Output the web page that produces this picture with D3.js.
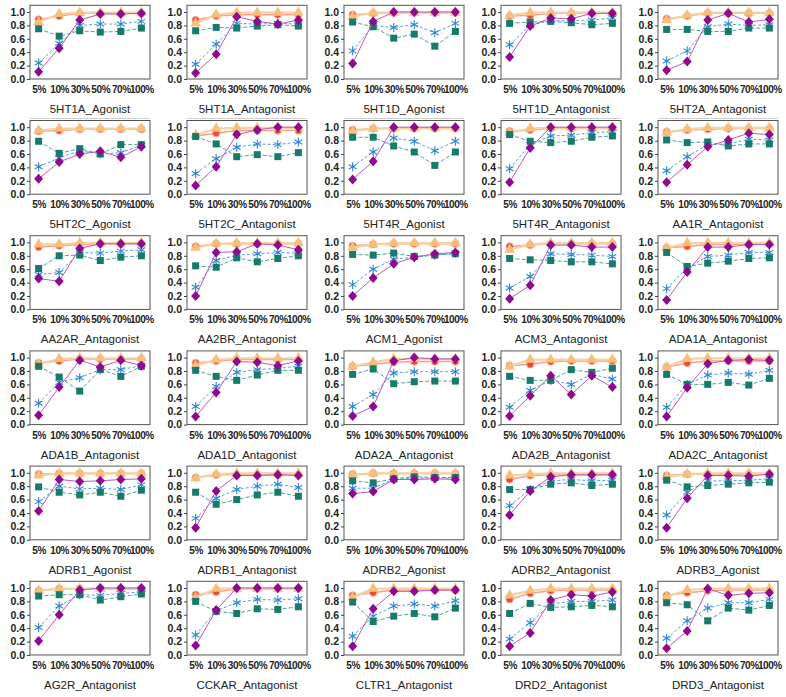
<!DOCTYPE html>
<html><head><meta charset="utf-8">
<script src="https://cdn.jsdelivr.net/npm/d3@7"></script>
<style>body{margin:0;background:#fff}</style>
</head><body>
<svg id="c" width="786" height="697"></svg>
<script>
const categories = ["5%","10%","30%","50%","70%","100%"];
const yTicks = [0,0.2,0.4,0.6,0.8,1.0];
const panelNames = [
"5HT1A_Agonist","5HT1A_Antagonist","5HT1D_Agonist","5HT1D_Antagonist","5HT2A_Antagonist",
"5HT2C_Agonist","5HT2C_Antagonist","5HT4R_Agonist","5HT4R_Antagonist","AA1R_Antagonist",
"AA2AR_Antagonist","AA2BR_Antagonist","ACM1_Agonist","ACM3_Antagonist","ADA1A_Antagonist",
"ADA1B_Antagonist","ADA1D_Antagonist","ADA2A_Antagonist","ADA2B_Antagonist","ADA2C_Antagonist",
"ADRB1_Agonist","ADRB1_Antagonist","ADRB2_Agonist","ADRB2_Antagonist","ADRB3_Agonist",
"AG2R_Antagonist","CCKAR_Antagonist","CLTR1_Antagonist","DRD2_Antagonist","DRD3_Antagonist"];
// red circle series
const redCircle = [
[.89,.94,.98,.98,.98,.98],[.88,.94,.96,.96,.96,.96],[.96,.98,.99,.99,.99,.99],[.94,.95,.98,.98,.98,.98],[.90,.94,.98,.98,.98,.98],
[.94,.95,.97,.97,.97,.97],[.87,.91,.95,.95,.95,.95],[.96,.98,.98,.98,.98,.98],[.94,.96,.98,.98,.98,.98],[.93,.96,.97,.98,.98,.98],
[.93,.95,.97,.98,.98,.98],[.94,.98,.98,.98,.98,.98],[.95,.97,.98,.98,.98,.98],[.94,.96,.98,.98,.98,.98],[.92,.94,.97,.97,.97,.98],
[.92,.95,.98,.98,.98,.98],[.92,.95,.97,.97,.97,.97],[.87,.90,.93,.94,.94,.94],[.88,.90,.94,.95,.95,.95],[.86,.92,.95,.95,.95,.95],
[.98,.99,.99,.99,.99,.99],[.93,.97,.97,.97,.97,.97],[.98,.99,.99,.99,.99,.99],[.90,.96,.97,.97,.97,.97],[.96,.98,.98,.98,.98,.98],
[.96,.99,.99,.99,.99,.99],[.90,.94,.99,.99,.99,.99],[.89,.93,.97,.97,.97,.97],[.83,.92,.96,.97,.97,.97],[.89,.93,.96,.97,.97,.97]];
// light orange triangle series
const orangeTriangle = [
[.85,.97,.99,.99,.99,.99],[.83,.96,.99,.99,.99,.99],[.93,.99,.99,.99,.99,.99],[.95,.99,.99,.99,.99,.99],[.88,.95,.99,.99,.99,.99],
[.95,.98,.98,.98,.98,.98],[.88,.98,.99,.99,.99,.99],[.94,.98,.99,.99,.99,.99],[.92,.98,.99,.99,.99,.99],[.92,.97,.99,.99,.99,.99],
[.97,.97,.99,.99,.99,.99],[.92,.98,.99,.99,.99,.99],[.92,.97,.99,.99,.99,.99],[.89,.97,.99,.99,.99,.99],[.92,.99,.99,.99,.99,.99],
[.90,.98,.99,.99,.99,.99],[.88,.97,.99,.99,.99,.99],[.87,.93,.98,.98,.98,.98],[.87,.97,.97,.97,.97,.97],[.86,.98,.99,.99,.99,.99],
[.96,.99,.99,.99,.99,.99],[.92,.98,.99,.99,.99,.99],[.97,.99,.99,.99,.99,.99],[.96,.98,.99,.99,.99,.99],[.94,.98,.99,.99,.99,.99],
[.96,.99,.99,.99,.99,.99],[.86,.99,.99,.99,.99,.99],[.86,.99,.99,.99,.99,.99],[.89,.96,.99,.99,.99,.99],[.87,.97,.99,.99,.99,.99]];
// purple diamond series
const purpleDiamond = [
[.11,.46,.88,.97,.97,.98],[.09,.37,.93,.86,.82,.88],[.23,.86,1.0,1.0,1.0,1.0],[.33,.79,.91,.90,.98,.98],[.13,.26,.88,.98,.85,.89],
[.23,.48,.60,.64,.55,.71],[.13,.41,.89,.96,1.0,1.0],[.22,.49,1.0,1.0,1.0,1.0],[.18,.69,1.0,1.0,1.0,1.0],[.18,.44,.71,.81,.91,.89],
[.46,.42,.91,.98,.98,.98],[.20,.85,.86,.98,.96,.89],[.20,.47,.68,.78,.83,.85],[.16,.36,.96,.96,.93,.93],[.14,.56,.93,.93,.97,.97],
[.14,.56,.96,.86,.96,.88],[.12,.48,.94,.93,.88,.95],[.13,.27,.95,1.0,.98,.98],[.13,.43,.73,.45,.73,.56],[.12,.55,.91,.96,.97,.96],
[.43,.90,.87,.88,.90,.91],[.18,.73,.96,.96,.97,.96],[.69,.72,.90,.90,.91,.90],[.37,.73,.94,.97,.97,.97],[.18,.62,.96,.96,.95,.98],
[.21,.60,.97,1.0,1.0,1.0],[.14,.67,1.0,1.0,1.0,1.0],[.13,.69,.95,.95,.97,.97],[.13,.33,.82,.90,.88,.94],[.10,.36,.99,.89,.92,.93]];
// blue asterisk series
const blueAsterisk = [
[.24,.53,.80,.82,.82,.86],[.22,.52,.83,.82,.83,.82],[.42,.80,.77,.81,.69,.83],[.51,.80,.87,.87,.88,.91],[.27,.42,.78,.82,.80,.81],
[.41,.54,.65,.60,.62,.73],[.31,.53,.70,.75,.74,.78],[.41,.63,.84,.79,.65,.79],[.38,.74,.87,.88,.92,.93],[.35,.56,.74,.75,.82,.81],
[.52,.55,.85,.84,.87,.89],[.33,.73,.81,.83,.85,.84],[.37,.60,.75,.78,.81,.84],[.32,.49,.83,.82,.81,.79],[.31,.62,.79,.81,.85,.85],
[.32,.63,.70,.82,.82,.88],[.27,.57,.78,.82,.84,.87],[.27,.45,.77,.79,.79,.79],[.26,.51,.66,.60,.75,.68],[.26,.60,.74,.77,.75,.81],
[.57,.80,.76,.77,.75,.82],[.32,.62,.75,.80,.83,.78],[.77,.77,.90,.92,.92,.92],[.51,.75,.88,.90,.88,.89],[.37,.71,.88,.88,.89,.91],
[.41,.73,.90,.89,.92,.94],[.30,.66,.78,.83,.82,.84],[.28,.58,.73,.76,.73,.81],[.24,.48,.76,.80,.80,.82],[.25,.51,.70,.78,.78,.83]];
// teal square series
const tealSquare = [
[.75,.64,.72,.70,.71,.76],[.72,.77,.76,.79,.81,.79],[.85,.78,.61,.67,.49,.71],[.83,.85,.86,.84,.81,.83],[.74,.74,.71,.71,.76,.76],
[.79,.61,.68,.60,.74,.74],[.86,.75,.56,.59,.56,.62],[.85,.85,.72,.63,.43,.63],[.89,.79,.77,.79,.85,.87],[.81,.77,.78,.72,.75,.75],
[.61,.80,.81,.73,.78,.80],[.65,.63,.77,.71,.76,.80],[.82,.81,.84,.79,.81,.83],[.76,.74,.73,.71,.71,.68],[.85,.64,.69,.72,.76,.77],
[.87,.71,.50,.82,.72,.87],[.81,.72,.66,.74,.81,.81],[.75,.83,.61,.64,.65,.65],[.72,.66,.66,.82,.78,.84],[.75,.60,.60,.63,.59,.69],
[.79,.71,.67,.71,.65,.74],[.71,.53,.60,.67,.71,.65],[.88,.85,.91,.94,.93,.93],[.75,.75,.83,.85,.81,.83],[.89,.79,.81,.83,.85,.86],
[.88,.90,.90,.82,.87,.91],[.80,.65,.62,.69,.68,.72],[.79,.50,.58,.62,.57,.70],[.62,.77,.71,.72,.74,.72],[.78,.75,.51,.70,.67,.74]];

const seriesDefs = [
  {data: redCircle, line:"#f4a090", fill:"#ec4a30", stroke:"#f6a898", sym:"circle", dash:null, lw:1.5},
  {data: orangeTriangle, line:"#f9d0a0", fill:"#f7bf7c", stroke:"none", sym:"tri", dash:null, lw:2.2},
  {data: blueAsterisk, line:"#5aa2dc", fill:"none", stroke:"#2f86d0", sym:"ast", dash:"3,2", lw:1},
  {data: tealSquare, line:"#4aa89a", fill:"#177a6c", stroke:"#1a7a6c", sym:"sq", dash:"4,2", lw:1},
  {data: purpleDiamond, line:"#c058c0", fill:"#8e0a8e", stroke:"#8e0a8e", sym:"dia", dash:null, lw:1}
];

const svg = d3.select("#c");
const colLeft = c => 30 + c*157;
const plotW = 120;
const rowY1 = r => 12 + r*115.2;
const unit = 67;
const FONT = "Liberation Sans, Arial, sans-serif";

panelNames.forEach((name, i) => {
  const r = Math.floor(i/5), c = i%5;
  const x0 = colLeft(c);
  const yBottom = rowY1(r) + unit;
  const yTop = yBottom - 1.1*unit;
  const x = d3.scalePoint().domain(categories).range([x0, x0+plotW]).padding(0.42);
  const y = d3.scaleLinear().domain([0,1.1]).range([yBottom, yTop]);
  const g = svg.append("g");
  g.append("rect").attr("x", x0).attr("y", yTop).attr("width", plotW).attr("height", yBottom-yTop)
    .attr("fill","none").attr("stroke","#555").attr("stroke-width",1);
  const ya = g.append("g").attr("transform",`translate(${x0},0)`)
    .call(d3.axisLeft(y).tickValues(yTicks).tickFormat(d3.format(".1f")).tickSize(3).tickPadding(2));
  ya.select(".domain").remove();
  ya.selectAll("line").attr("stroke","#444");
  ya.selectAll("text").attr("font-family",FONT).attr("font-weight","bold").attr("font-size","10.5px").attr("fill","#222");
  const xa = g.append("g").attr("transform",`translate(0,${yBottom})`)
    .call(d3.axisBottom(x).tickSize(0).tickPadding(7));
  xa.select(".domain").remove();
  xa.selectAll("text").attr("font-family",FONT).attr("font-weight","bold").attr("font-size","10px")
    .attr("letter-spacing","-0.4px").attr("fill","#222");
  g.append("text").attr("x", x0+plotW/2).attr("y", yBottom+34).attr("text-anchor","middle")
    .attr("font-family",FONT).attr("font-size","11.5px").attr("fill","#222").text(name);
  if (r === 0) {
    g.append("line").attr("x1", x0).attr("x2", x0+plotW).attr("y1", 118.5).attr("y2", 118.5).attr("stroke","#d0d0d0");
  }
  seriesDefs.forEach(s => {
    const vals = s.data[i];
    const pts = categories.map((cat,k)=>[x(cat), y(vals[k])]);
    g.append("path").attr("d", d3.line()(pts)).attr("fill","none").attr("stroke", s.line)
      .attr("stroke-width", s.lw).attr("stroke-dasharray", s.dash);
    pts.forEach(p => {
      if (s.sym === "circle") {
        g.append("circle").attr("cx",p[0]).attr("cy",p[1]).attr("r",3.6).attr("fill",s.fill).attr("stroke",s.stroke).attr("stroke-width",1);
      } else if (s.sym === "tri") {
        g.append("path").attr("transform",`translate(${p[0]},${p[1]})`).attr("d", d3.symbol(d3.symbolTriangle, 50)()).attr("fill",s.fill);
      } else if (s.sym === "sq") {
        g.append("rect").attr("x",p[0]-3.5).attr("y",p[1]-3.5).attr("width",7).attr("height",7).attr("fill",s.fill);
      } else if (s.sym === "dia") {
        g.append("path").attr("transform",`translate(${p[0]},${p[1]})`).attr("d","M0,-5L4.5,0L0,5L-4.5,0Z").attr("fill",s.fill);
      } else if (s.sym === "ast") {
        const a = 4.5, b = 3.9, h = 2.25;
        g.append("path").attr("transform",`translate(${p[0]},${p[1]})`)
          .attr("d",`M0,${-a}L0,${a}M${-b},${-h}L${b},${h}M${-b},${h}L${b},${-h}`)
          .attr("stroke",s.stroke).attr("stroke-width",1.1).attr("fill","none");
      }
    });
  });
});
</script>
</body></html>
